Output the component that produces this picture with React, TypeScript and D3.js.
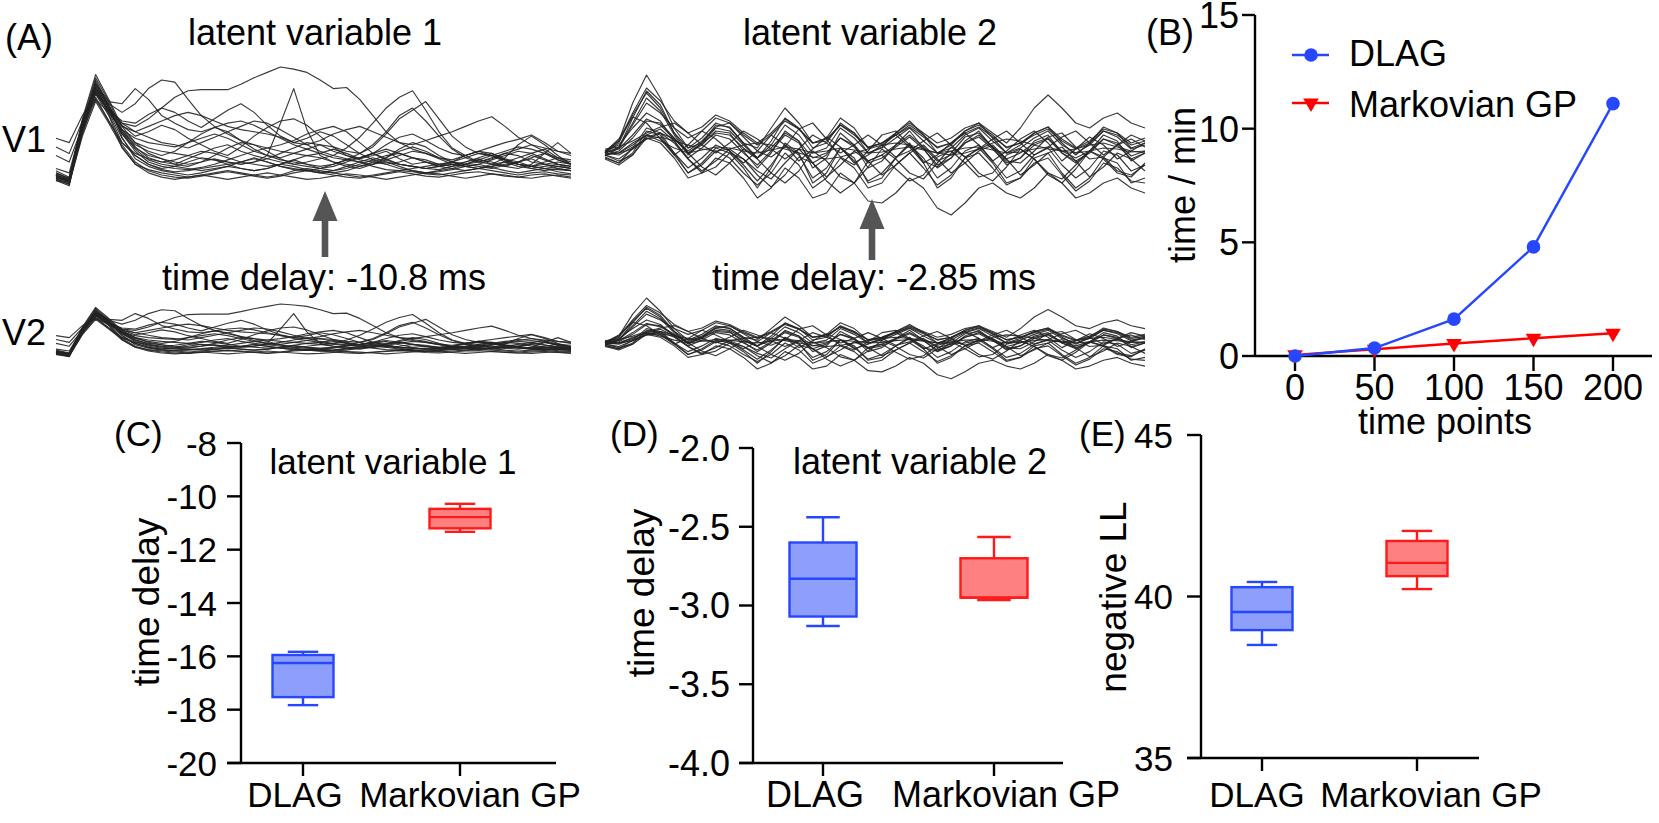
import React from "react";
import * as d3 from "d3";

const FONT = "'Liberation Sans', Arial, Helvetica, sans-serif";
const FS = 36;

// ---------- Panel B : run time ----------
const timePoints = [0, 50, 100, 150, 200];
const dlagMinutes = [0, 0.35, 1.62, 4.8, 11.1];
const markovMinutes = [0.05, 0.3, 0.55, 0.78, 1.0];
const minuteTicks = [0, 5, 10, 15];

// ---------- Panels C-E : box plots  [min, q1, median, q3, max] ----------
const boxGroups = ["DLAG", "Markovian GP"];
const delay1DLAG = [-17.83, -17.53, -16.25, -15.95, -15.83];
const delay1Markov = [-11.33, -11.2, -10.78, -10.47, -10.28];
const delay1Ticks = [-8, -10, -12, -14, -16, -18, -20];
const delay2DLAG = [-3.13, -3.07, -2.83, -2.6, -2.44];
const delay2Markov = [-2.965, -2.95, -2.95, -2.7, -2.565];
const delay2Ticks = [-2.0, -2.5, -3.0, -3.5, -4.0];
const nllDLAG = [38.5, 38.96, 39.52, 40.29, 40.45];
const nllMarkov = [40.23, 40.63, 41.04, 41.72, 42.03];
const nllTicks = [35, 40, 45];

// ---------- Panel A : latent trajectories (arbitrary units) ----------
const latent1Traces = [
  [-3,-9,40,80,60,48,45,52,62,72,78,79,79,79,84,90,95,100,98,95,88,80,81,70,55,40,30,24,20,16,14,18,22,20,15,12,16,20,14,10],
  [-5,-10,45,85,62,38,25,18,15,12,10,12,15,12,10,12,18,48,80,42,18,12,10,8,10,12,10,8,6,8,10,8,6,8,10,12,8,6,5,4],
  [2,-4,42,80,66,58,66,80,88,86,70,55,45,38,32,28,25,22,20,18,20,24,20,15,18,22,15,10,12,8,10,12,15,10,8,12,18,14,10,8],
  [0,-6,48,84,68,66,80,70,55,48,42,40,44,48,50,46,40,34,28,24,20,16,14,16,20,24,20,16,12,10,12,16,20,18,14,10,8,10,12,10],
  [0,-8,50,82,56,30,20,15,12,10,15,20,25,28,22,18,15,12,10,12,15,18,25,35,48,62,72,78,60,40,25,18,12,15,20,18,12,10,8,6],
  [4,-2,46,78,58,42,34,30,28,26,30,34,38,34,28,22,18,16,20,24,28,26,22,20,26,38,52,60,68,52,36,26,20,18,22,26,24,20,16,14],
  [34,30,55,75,60,45,40,45,50,55,58,55,50,45,42,40,38,35,30,28,32,38,42,45,40,35,30,28,32,36,40,45,50,54,45,35,28,25,22,20],
  [26,20,50,70,58,42,30,25,22,20,18,15,14,12,10,12,15,20,25,30,28,22,18,15,20,28,35,38,32,25,20,18,22,26,30,33,37,30,22,18],
  [18,12,45,72,50,30,18,10,5,3,4,6,8,10,12,15,12,8,5,4,6,10,14,12,8,5,4,6,8,10,12,10,8,6,9,12,15,10,6,4],
  [-3,-6,38,75,55,25,10,5,2,0,-2,0,2,4,2,0,-2,0,4,6,4,2,0,-2,0,2,4,3,1,0,2,4,6,4,2,0,2,3,1,0],
  [-2,-5,45,88,65,35,15,8,4,2,0,2,5,8,6,4,6,10,8,5,3,2,4,8,12,10,6,4,2,3,5,8,10,7,4,2,4,6,3,1],
  [0,-4,52,93,70,45,30,20,15,10,8,12,18,25,30,28,22,15,10,8,6,8,12,16,20,15,10,8,6,5,8,12,16,20,14,10,8,12,16,12],
  [6,2,48,80,62,48,40,35,30,28,25,30,35,40,45,50,48,42,35,28,22,18,15,12,10,14,18,22,20,15,10,8,10,14,18,22,20,15,10,8],
  [-4,-7,40,70,50,28,12,4,0,-2,-3,-1,1,3,1,-1,-3,-1,2,4,2,0,-2,-3,-1,1,3,1,-1,-2,0,2,3,1,-1,-2,0,1,-1,-3],
  [-1,-5,44,78,60,38,22,12,8,6,5,7,10,14,18,22,25,28,32,38,42,45,40,30,20,14,10,8,6,8,12,18,22,18,12,8,6,8,10,6],
  [2,-3,46,84,62,40,28,22,18,22,30,38,44,40,32,24,18,14,12,10,8,10,14,20,28,40,55,62,50,36,24,16,12,10,12,16,20,24,16,10],
  [0,-5,42,76,58,34,18,10,6,8,12,16,14,10,6,4,6,10,14,18,16,12,8,6,10,16,24,30,26,18,12,8,6,10,16,28,36,28,18,10],
  [-2,-6,48,86,64,40,24,14,10,8,6,4,6,8,12,16,12,8,6,4,2,4,8,12,16,12,8,4,2,4,6,10,14,12,8,6,10,20,30,20],
  [-5,-8,36,68,48,26,10,2,-2,-4,-2,0,-2,-4,-2,0,2,0,-2,-4,-3,-1,1,0,-2,-4,-2,0,2,1,-1,-3,-1,1,0,-2,-3,-1,0,-2],
  [1,-3,50,90,68,42,26,16,12,14,18,22,20,16,12,10,8,10,14,10,6,4,6,10,14,18,20,16,12,8,6,4,6,8,12,10,6,4,6,4],
  [0,-6,44,76,60,50,48,56,62,58,50,44,52,60,66,58,46,36,30,34,40,36,28,20,14,10,12,16,14,10,8,10,14,18,14,10,8,6,8,6],
  [-2,-6,46,82,64,46,36,40,46,42,34,28,22,18,26,36,44,50,52,46,36,26,18,14,12,16,22,26,22,16,12,10,12,16,20,24,28,22,14,10],
];

const latent2Traces = [
  [0,12,50,78,55,25,5,10,20,18,5,-5,5,20,12,-5,0,15,8,-8,-2,8,18,6,-8,-2,10,18,6,-6,0,10,15,2,-5,2,14,10,-3,2],
  [-3,5,35,62,48,20,0,8,22,20,2,-15,0,22,12,-15,-5,20,8,-15,-8,8,22,5,-15,-5,12,22,5,-12,-5,12,18,0,-10,2,18,12,-8,0],
  [-5,-10,5,25,20,0,-20,-10,5,0,-15,-35,-15,10,0,-30,-20,5,-5,-30,-25,-5,10,-10,-35,-25,-5,5,-10,-30,-25,-5,0,-20,-35,-25,-5,-10,-30,-25],
  [-2,-8,-2,15,10,-5,-25,-20,-5,-10,-25,-45,-35,-15,-25,-45,-40,-20,-30,-48,-50,-40,-25,-35,-55,-62,-50,-35,-30,-40,-45,-35,-20,-30,-45,-40,-30,-25,-35,-40],
  [0,10,38,60,45,20,5,15,30,25,10,5,25,45,30,10,15,35,25,5,10,20,30,20,10,15,25,30,20,10,25,45,58,45,30,25,35,40,30,25],
  [4,6,12,20,26,30,20,8,0,10,22,14,4,-6,4,18,10,0,8,18,8,-4,2,12,20,8,-4,4,14,22,10,-2,6,16,22,10,-2,8,18,12],
  [-6,-12,-2,18,15,0,-15,-5,8,2,-12,-28,-12,8,-2,-25,-15,5,-8,-28,-20,-5,8,-5,-25,-15,2,8,-8,-25,-18,-2,5,-12,-25,-15,2,-2,-18,-12],
  [2,8,25,40,32,12,-5,5,18,14,0,-12,2,18,10,-10,-2,15,6,-10,-5,6,16,4,-12,-5,10,16,4,-10,-5,8,14,0,-8,0,14,8,-6,0],
  [-4,-10,0,22,18,-2,-20,-12,2,-5,-20,-32,-20,0,-12,-35,-25,-5,-15,-35,-30,-12,0,-15,-32,-22,-5,0,-15,-32,-25,-10,-5,-22,-38,-28,-10,-15,-28,-30],
  [0,5,28,50,40,25,15,22,35,30,18,8,18,32,24,10,12,28,20,5,10,18,28,18,5,10,22,28,18,5,10,20,26,14,5,12,24,20,10,15],
  [2,0,8,18,24,12,-6,-18,-8,4,-6,-18,-26,-10,4,-10,-24,-12,2,-8,-22,-12,0,8,-6,-20,-10,2,8,-6,-22,-12,0,6,-8,-24,-14,0,-6,-18],
  [-2,2,15,32,30,15,0,10,25,22,8,-5,8,28,18,0,5,25,15,0,5,15,25,12,0,5,18,25,12,0,5,15,22,8,0,8,22,16,4,8],
  [1,14,36,30,14,-2,8,22,14,2,-10,2,18,8,-8,4,16,6,-10,-2,8,18,6,-10,-2,10,20,8,-8,2,14,22,10,-8,4,16,8,-6,2,10],
  [-1,0,4,14,20,14,0,-14,-22,-10,4,-6,-20,-30,-18,2,-8,-24,-30,-14,4,-6,-20,-26,-10,6,-4,-20,-28,-14,4,-6,-22,-30,-16,2,-6,-20,-24,-10],
  [2,12,40,65,52,32,20,26,38,32,20,10,20,34,24,10,14,28,18,6,10,18,26,16,6,10,20,26,16,6,10,18,24,12,4,10,22,18,8,12],
  [0,-2,6,14,16,12,8,4,2,4,8,10,8,4,0,-4,-6,-4,0,4,8,10,8,4,0,-2,0,4,10,14,12,8,4,2,4,8,10,6,2,0],
  [-2,0,10,18,12,5,0,3,6,5,2,0,3,6,4,0,2,5,3,0,1,4,6,3,0,2,5,6,3,0,1,4,6,2,0,2,5,4,1,2],
  [0,6,30,55,42,18,-2,10,28,26,10,-5,12,35,25,5,10,30,20,0,6,20,32,18,0,8,22,30,15,0,8,20,26,10,-2,10,26,20,5,10],
  [0,4,18,34,28,14,2,12,26,30,16,2,-4,6,24,30,14,-4,-12,2,18,22,8,-8,-14,0,16,20,6,-8,-10,2,16,20,6,-6,-4,8,14,6],
  [-2,-6,4,16,20,10,-6,-20,-14,0,-6,-22,-34,-22,-4,-10,-28,-40,-30,-8,-2,-16,-28,-22,-4,2,-10,-24,-20,-2,4,-6,-20,-26,-12,2,-4,-18,-22,-12],
];

const BLUE = "#2747ff";
const BLUE_FILL = "#8d9ffb";
const RED = "#ff1a1a";
const RED_FILL = "#ff8080";
const AXIS_W = 2.4;

function T(props: any) {
  const { children, fs, ...rest } = props;
  return (
    <text fontFamily={FONT} fontSize={fs || FS} fill="#000" {...rest}>
      {children}
    </text>
  );
}

function Traces({ traces, x, y }: any) {
  const line = d3
    .line<number>()
    .x((_, i) => x(i))
    .y((d) => y(d));
  return (
    <g fill="none" stroke="#242424" strokeWidth={1.15} strokeOpacity={0.9} strokeLinejoin="round">
      {traces.map((tr: number[], k: number) => (
        <path key={k} d={line(tr) || ""} />
      ))}
    </g>
  );
}

function Arrow({ x, tip, base, end }: any) {
  return (
    <g fill="#555">
      <polygon points={`${x},${tip} ${x - 12.5},${base} ${x + 12.5},${base}`} />
      <rect x={x - 3.3} y={base - 1} width={6.6} height={end - base + 1} />
    </g>
  );
}

function BoxPanel(p: any) {
  const y = d3.scaleLinear().domain(p.domain).range(p.yRange);
  const xAxisY = p.yRange[0];
  const x = d3.scalePoint().domain(boxGroups).range(p.groupX);
  const colors = [
    { s: BLUE, f: BLUE_FILL },
    { s: RED, f: RED_FILL },
  ];
  return (
    <g>
      {p.data.map((d: number[], i: number) => {
        const cx = x(boxGroups[i]) as number;
        const hw = p.boxW / 2;
        const cw = p.boxW / 4;
        const c = colors[i];
        return (
          <g key={i} stroke={c.s} strokeWidth={2.4}>
            <line x1={cx} x2={cx} y1={y(d[3])} y2={y(d[4])} />
            <line x1={cx} x2={cx} y1={y(d[1])} y2={y(d[0])} />
            <line x1={cx - cw} x2={cx + cw} y1={y(d[4])} y2={y(d[4])} />
            <line x1={cx - cw} x2={cx + cw} y1={y(d[0])} y2={y(d[0])} />
            <rect x={cx - hw} y={y(d[3])} width={p.boxW} height={y(d[1]) - y(d[3])} fill={c.f} />
            <line x1={cx - hw} x2={cx + hw} y1={y(d[2])} y2={y(d[2])} />
          </g>
        );
      })}
      <g stroke="#000" strokeWidth={AXIS_W}>
        <line x1={p.axisX} x2={p.axisX} y1={y(p.domain[1])} y2={xAxisY} />
        <line x1={p.axisX - 14} x2={p.xEnd} y1={xAxisY} y2={xAxisY} />
        {p.ticks.map((t: number) => (
          <line key={t} x1={p.axisX - 14} x2={p.axisX} y1={y(t)} y2={y(t)} />
        ))}
        {boxGroups.map((g) => (
          <line key={g} x1={x(g)} x2={x(g)} y1={xAxisY} y2={xAxisY + 13} />
        ))}
      </g>
      {p.ticks.map((t: number) => (
        <T key={t} fs={p.fs} x={p.tickLabelX} y={y(t)} dy="0.36em" textAnchor="end">
          {p.fmt(t)}
        </T>
      ))}
      {boxGroups.map((g, i) => (
        <T key={g} fs={p.fs} x={(x(g) as number) + p.labelShift[i]} y={807} textAnchor="middle">
          {g}
        </T>
      ))}
      <T fs={35} x={p.panelX} y={446}>{p.panel}</T>
      {p.title && (
        <T fs={p.fs} x={p.titleX} y={474} textAnchor="middle">
          {p.title}
        </T>
      )}
      <T fs={37} transform={`translate(${p.yTitleX},${p.yTitleY}) rotate(-90)`} textAnchor="middle">
        {p.yTitle}
      </T>
    </g>
  );
}

export default function App() {
  // Panel A scales
  const xL = d3.scaleLinear().domain([0, 39]).range([56, 571]);
  const yL1 = d3.scaleLinear().domain([0, 100]).range([175, 67]);
  const yL2 = d3.scaleLinear().domain([0, 100]).range([352, 304]);
  const xR = d3.scaleLinear().domain([0, 39]).range([605, 1145]);
  const yR1 = d3.scaleLinear().domain([0, 78]).range([153, 75]);
  const yR2 = d3.scaleLinear().domain([0, 78]).range([343, 298]);

  // Panel B scales
  const xB = d3.scaleLinear().domain([0, 200]).range([1295, 1613]);
  const yB = d3.scaleLinear().domain([0, 15]).range([356, 15]);
  const runLine = d3
    .line<number>()
    .x((_, i) => xB(timePoints[i]))
    .y((d) => yB(d));
  const tri = d3.symbol().type(d3.symbolTriangle).size(105)() || "";

  return (
    <svg
      width={1659}
      height={823}
      style={{ position: "absolute", left: 0, top: 0, display: "block", background: "#fff" }}
    >
      <rect width={1659} height={823} fill="#fff" />

      {/* ---------- Panel A ---------- */}
      <T x={5} y={50}>(A)</T>
      <T x={315} y={45} textAnchor="middle">latent variable 1</T>
      <T x={870} y={45} textAnchor="middle">latent variable 2</T>
      <T x={2} y={152}>V1</T>
      <T x={2} y={345}>V2</T>
      <Traces traces={latent1Traces} x={xL} y={yL1} />
      <Traces traces={latent1Traces} x={xL} y={yL2} />
      <Traces traces={latent2Traces} x={xR} y={yR1} />
      <Traces traces={latent2Traces} x={xR} y={yR2} />
      <Arrow x={325} tip={191} base={221} end={257} />
      <Arrow x={872} tip={199} base={229} end={260} />
      <T x={324} y={290} textAnchor="middle">time delay: -10.8 ms</T>
      <T x={874} y={290} textAnchor="middle">time delay: -2.85 ms</T>

      {/* ---------- Panel B ---------- */}
      <T x={1146} y={45}>(B)</T>
      <g stroke="#000" strokeWidth={AXIS_W}>
        <line x1={1255} x2={1255} y1={yB(15)} y2={yB(0)} />
        <line x1={1255} x2={1652} y1={yB(0)} y2={yB(0)} />
        {minuteTicks.map((t) => (
          <line key={t} x1={1242} x2={1255} y1={yB(t)} y2={yB(t)} />
        ))}
        {timePoints.map((t) => (
          <line key={t} x1={xB(t)} x2={xB(t)} y1={yB(0)} y2={yB(0) + 15} />
        ))}
      </g>
      {minuteTicks.map((t) => (
        <T key={t} x={1239} y={yB(t)} dy="0.36em" textAnchor="end">
          {t}
        </T>
      ))}
      {timePoints.map((t) => (
        <T key={t} x={xB(t)} y={400} textAnchor="middle">
          {t}
        </T>
      ))}
      <T x={1445} y={434} textAnchor="middle">time points</T>
      <T transform="translate(1195,185) rotate(-90)" textAnchor="middle">time / min</T>
      <path d={runLine(markovMinutes) || ""} fill="none" stroke="#ff0000" strokeWidth={2.4} />
      {markovMinutes.map((d, i) => (
        <path key={i} d={tri} transform={`translate(${xB(timePoints[i])},${yB(d)}) rotate(180)`} fill="#ff0000" />
      ))}
      <path d={runLine(dlagMinutes) || ""} fill="none" stroke={BLUE} strokeWidth={2.4} />
      {dlagMinutes.map((d, i) => (
        <circle key={i} cx={xB(timePoints[i])} cy={yB(d)} r={6.8} fill={BLUE} />
      ))}
      <line x1={1292} x2={1329} y1={55} y2={55} stroke={BLUE} strokeWidth={2.4} />
      <circle cx={1311} cy={55} r={6.8} fill={BLUE} />
      <T x={1349} y={66}>DLAG</T>
      <line x1={1292} x2={1329} y1={103} y2={103} stroke="#ff0000" strokeWidth={2.4} />
      <path d={tri} transform="translate(1311,103) rotate(180)" fill="#ff0000" />
      <T x={1349} y={117}>Markovian GP</T>

      {/* ---------- Panel C ---------- */}
      <BoxPanel
        panel="(C)"
        panelX={114}
        title="latent variable 1"
        titleX={393}
        yTitle="time delay"
        yTitleX={159}
        yTitleY={602}
        domain={[-20, -8]}
        yRange={[763, 443]}
        ticks={delay1Ticks}
        fmt={(v: number) => String(v)}
        axisX={241}
        xEnd={556}
        groupX={[303, 460]}
        boxW={61}
        tickLabelX={217}
        fs={35}
        labelShift={[-8, 10]}
        data={[delay1DLAG, delay1Markov]}
      />
      {/* ---------- Panel D ---------- */}
      <BoxPanel
        panel="(D)"
        panelX={610}
        title="latent variable 2"
        titleX={920}
        yTitle="time delay"
        yTitleX={654}
        yTitleY={593}
        domain={[-4, -2]}
        yRange={[763, 448]}
        ticks={delay2Ticks}
        fmt={(v: number) => v.toFixed(1)}
        axisX={753}
        xEnd={1063}
        groupX={[823, 994]}
        boxW={67}
        tickLabelX={730}
        fs={36}
        labelShift={[-8, 12]}
        data={[delay2DLAG, delay2Markov]}
      />
      {/* ---------- Panel E ---------- */}
      <BoxPanel
        panel="(E)"
        panelX={1079}
        title={null}
        yTitle="negative LL"
        yTitleX={1126}
        yTitleY={597}
        domain={[35, 45]}
        yRange={[758, 435]}
        ticks={nllTicks}
        fmt={(v: number) => String(v)}
        axisX={1201}
        xEnd={1479}
        groupX={[1262, 1417]}
        boxW={61}
        tickLabelX={1173}
        fs={35}
        labelShift={[-5, 14]}
        data={[nllDLAG, nllMarkov]}
      />
    </svg>
  );
}
